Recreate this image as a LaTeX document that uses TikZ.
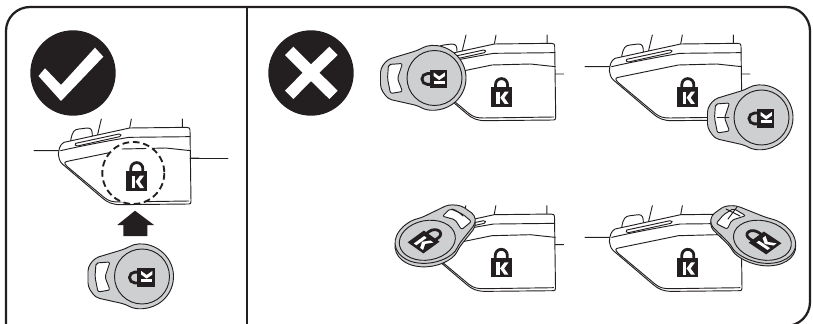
\documentclass[tikz,border=0pt]{standalone}
\definecolor{ink}{HTML}{231F20}
\definecolor{keygrey}{HTML}{CDCFD1}
\tikzset{
  x=0.75pt,y=-0.75pt,
  fine/.style={draw=ink,line width=0.7pt,line join=round,line cap=round},
}
\newcommand\lockscale{0.9}
\newcommand\lockicon{%
    \fill[ink] (-10.5,-9.7) rectangle (10.5,9.7);
    \draw[ink,line width=2.1pt] (-6,-9) -- (-6,-12.4) arc[start angle=180,end angle=360,radius=6] -- (6,-9);
    \fill[white] (-5.2,-5.3) rectangle (-1.8,7);
    \fill[white] (7.2,-5.3) -- (3.2,-5.3) -- (-1.2,.7) -- (3.2,7) -- (7.2,7) -- (2.8,.7) -- cycle;
}
\newcommand\devicebody{%
    \begin{scope}[scale=1/3]
      \draw[fine] (75,200) -- (150,200) (277,105) -- (265,155) (367,105) -- (362,132) (520,105) -- (520,130) (545,222) -- (570,222);
      \draw[fine,fill=white] (185,170) .. controls (190,142) and (195,137) .. (210,135) -- (235,132) .. controls (248,132) and (250,140) .. (250,156);
      \draw[fine,fill=white] (148,212) .. controls (150,195) and (152,182) .. (165,175) -- (362,132) -- (533,130) .. controls (541,130) and (543,133) .. (543,138) -- (546,352) .. controls (546,358) and (544,360) .. (540,360) -- (335,362) .. controls (310,362) and (295,355) .. (280,342) -- (160,240) .. controls (152,232) and (149,222) .. (148,212) -- cycle;
      \draw[fine] (155,200) .. controls (220,185) and (300,170) .. (360,160) -- (543,158);
      \draw[fine] (200,178) -- (330,150) .. controls (338,150) and (338,155) .. (332,158) -- (205,186) .. controls (198,186) and (197,181) .. (200,178) -- cycle;
      \draw[fine] (175,248) .. controls (165,238) and (165,234) .. (175,232) -- (355,195) -- (470,192) -- (545,200);
      \draw[fine] (175,248) -- (285,340) .. controls (300,352) and (312,354) .. (330,354) -- (540,351);
    \end{scope}
    \begin{scope}[shift={(127.8,97)}]\lockicon\end{scope}
}
\newcommand\keyrim{%
    \draw[fine,fill=keygrey,rounded corners=3pt] (-16,-27.7) arc[start angle=240,end angle=480,radius=32] -- (-46,21) -- (-53.5,10.5) -- (-53.5,-9.5) -- (-46.5,-18.5) -- cycle;
}
\newcommand\keybody{%
    \keyrim
    \draw[fine] (0.5,0) circle[radius=27.5];
    \draw[fine,fill=white,rounded corners=1.5pt] (-45.5,-13.5) -- (-31.5,-14.5) -- (-36.5,0.5) -- (-31.5,13.5) -- (-43.5,15.5) -- (-46.5,0.5) -- cycle;
    \begin{scope}[shift={(4.5,1)},rotate=90,scale=\lockscale]\lockicon\end{scope}
}
\begin{document}
\begin{tikzpicture}
\useasboundingbox (0,0) rectangle (813,324);
% frame
\draw[ink,line width=1.7pt,rounded corners=18pt] (6,345) -- (6,7) -- (810,7) -- (810,326) -- (6,326) -- cycle;
\draw[ink,line width=1.7pt] (247,7) -- (247,324);
% badges
\fill[ink] (73,73) circle[radius=42.7];
\fill[white] (38.5,76) -- (45,68.3) -- (61,85) -- (95,47.7) -- (103.3,56.7) -- (61,101) -- cycle;
\fill[ink] (311,73) circle[radius=42.7];
\begin{scope}[shift={(311,72.7)},scale=1/3]
\fill[white] (-53,-78) -- (0,-25) -- (55,-78) -- (80,-53) -- (25,0) -- (80,54) -- (55,79) -- (0,25) -- (-53,79) -- (-78,54) -- (-25,0) -- (-78,-53) -- cycle;
\end{scope}
% left panel
\begin{scope}[shift={(9,84)}]\devicebody\end{scope}
\draw[fine] (190,158) -- (228,158);
\fill[white] (133.3,173) circle[radius=31];
\draw[ink,line width=1.4pt,dash pattern=on 5pt off 2.8pt] (133.3,173) circle[radius=31];
\draw[fine] (122,149) -- (146,148.5);
\begin{scope}[shift={(136.8,181)}]\lockicon\end{scope}
\fill[ink] (135,210.7) -- (154,225) -- (147.3,225) -- (147.3,236) -- (123.3,236) -- (123.3,225) -- (117.3,225) -- cycle;
\begin{scope}[shift={(141.5,276.5)}]\keybody\end{scope}
% top middle
\begin{scope}[shift={(373.7,0)}]\devicebody\end{scope}
\begin{scope}[shift={(434,78)}]\keybody\end{scope}
% top right
\begin{scope}[shift={(560,0)}]\devicebody\end{scope}
\begin{scope}[shift={(761,117.5)}]\keybody\end{scope}
\draw[fine] (717,117.3) -- (729,117.3);
% bottom devices first
\begin{scope}[shift={(373.5,170.7)}]\devicebody\end{scope}
\begin{scope}[shift={(560,170.7)}]\devicebody\end{scope}
\renewcommand\lockscale{1.1}
% bottom middle key
\begin{scope}[shift={(427.7,243.5)},cm={-0.76,-0.55,0.68,-0.48,(0,0)}]\keyrim\end{scope}
\begin{scope}[shift={(427.7,240)},cm={-0.76,-0.55,0.68,-0.48,(0,0)}]\keybody\end{scope}
\draw[fine] (452,209) .. controls (456,210) and (460,213) .. (463,216);
% bottom right key
\begin{scope}[shift={(762,242.5)},cm={0.82,-0.55,0.66,0.48,(0,0)}]\keyrim\end{scope}
\begin{scope}[shift={(762,240)},cm={0.82,-0.55,0.66,0.48,(0,0)}]\keybody\end{scope}
\draw[fine] (726,209) -- (740,216) (737,207) -- (728,219);
\end{tikzpicture}
\end{document}
